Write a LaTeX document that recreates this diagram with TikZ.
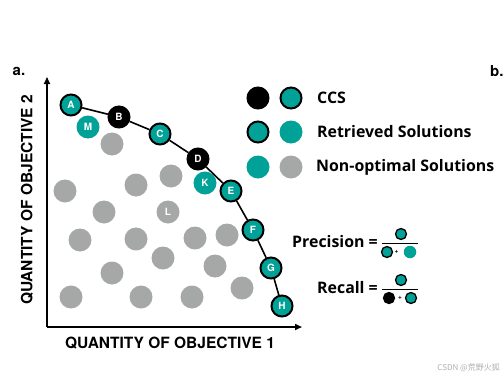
\documentclass[tikz,border=0pt]{standalone}
\usepackage{fontspec}
\setmainfont{TeX Gyre Heros}
\newfontfamily\legfont{Open Sans}
\newfontfamily\cjkfont{Noto Sans CJK SC}
\usetikzlibrary{arrows.meta}
\definecolor{tealc}{RGB}{0,161,150}
\definecolor{greyc}{RGB}{166,168,167}
\definecolor{wmark}{RGB}{175,175,175}
\tikzset{
  pt/.style={circle, inner sep=0pt, minimum size=21pt, text=white, font=\bfseries\fontsize{10}{10}\selectfont},
  ccs/.style={pt, fill=tealc, draw=black, line width=2pt},
  ccsb/.style={pt, fill=black, draw=black, line width=2pt},
  ret/.style={pt, fill=tealc, minimum size=23pt},
  non/.style={pt, fill=greyc, minimum size=23pt},
  legtext/.style={anchor=west, inner sep=0pt, font=\legfont\bfseries\fontsize{15.9}{16}\selectfont},
  axlabel/.style={inner sep=0pt, font=\bfseries\fontsize{15.5}{16}\selectfont},
  sccs/.style={circle, inner sep=0pt, minimum size=11pt, fill=tealc, draw=black, line width=1.3pt},
  sccsb/.style={circle, inner sep=0pt, minimum size=11pt, fill=black, draw=black, line width=1.3pt},
  sret/.style={circle, inner sep=0pt, minimum size=12.5pt, fill=tealc},
  plus/.style={inner sep=0pt, font=\bfseries\fontsize{6.5}{6.5}\selectfont},
  curve/.style={line width=1.6pt, black},
  axis/.style={line width=1.6pt, -{Triangle[length=7pt,width=6pt]}},
}
\begin{document}
\begin{tikzpicture}[x=1pt,y=-1pt]
\useasboundingbox (0,0) rectangle (504,381);
\fill[white] (0,0) rectangle (504,381);

% panel letters
\node[axlabel, font=\bfseries\fontsize{15}{15}\selectfont] (la) at (19,71) {a.};
\node[axlabel, font=\bfseries\fontsize{15}{15}\selectfont, anchor=west] (lb) at (490,71) {b.};

% axes
\coordinate (o) at (47,327);
\coordinate (ytip) at (47,77);
\coordinate (xtip) at (302,327);
\draw[axis] (o) -- (ytip);
\draw[axis] (o) -- (xtip);
\node[axlabel, rotate=90] (ylab) at (27,200) {QUANTITY OF OBJECTIVE 2};
\node[axlabel] (xlab) at (170,343) {QUANTITY OF OBJECTIVE 1};

% non-optimal solutions
\node[non] (n1) at (112,144) {};
\node[non] (n2) at (65,191) {};
\node[non] (n3) at (136,185) {};
\node[non] (n4) at (171,176) {};
\node[non] (n5) at (104,212) {};
\node[non] (L) at (168,212) {L};
\node[non] (n6) at (80,240) {};
\node[non] (n7) at (136,239) {};
\node[non] (n8) at (195,238) {};
\node[non] (n9) at (227,235) {};
\node[non] (n10) at (163,258) {};
\node[non] (n11) at (112,273) {};
\node[non] (n12) at (215,266) {};
\node[non] (n13) at (71,297) {};
\node[non] (n14) at (141,297) {};
\node[non] (n15) at (192,297) {};
\node[non] (n16) at (242,288) {};

% retrieved, not in CCS
\node[ret] (M) at (88,127) {M};
\node[ret] (K) at (205,183) {K};

% CCS
\node[ccs] (A) at (71,105) {A};
\node[ccsb] (B) at (119,117) {B};
\node[ccs] (C) at (160,134) {C};
\node[ccsb] (D) at (198,159) {D};
\node[ccs] (E) at (231,191) {E};
\node[ccs] (F) at (253,230) {F};
\node[ccs] (G) at (271,268) {G};
\node[ccs] (H) at (282,306) {H};
\draw[curve] (A) -- (B) -- (C) -- (D) -- (E) -- (F) -- (G) -- (H);

% legend
\node[ccsb] (l1a) at (258,98) {};
\node[ccs] (l1b) at (291,98) {};
\node[legtext] (t1) at (317,98) {CCS};
\node[ccs] (l2a) at (258,132) {};
\node[ret] (l2b) at (291,132) {};
\node[legtext] (t2) at (317,132) {Retrieved Solutions};
\node[ret] (l3a) at (258,167) {};
\node[non] (l3b) at (291,167) {};
\node[legtext] (t3) at (316,167) {Non-optimal Solutions};

% precision
\node[legtext, anchor=east] (prec) at (378,242) {Precision =};
\node[sccs] (pnum) at (401,234) {};
\coordinate (pl1) at (382,243);
\coordinate (pl2) at (418,243);
\draw[line width=1pt] (pl1) -- (pl2);
\node[sccs] (pd1) at (387,252) {};
\node[plus] (pplus) at (396.5,252) {+};
\node[sret] (pd2) at (410,252) {};

% recall
\node[legtext, anchor=east] (rec) at (378,288) {Recall =};
\node[sccs] (rnum) at (401,280) {};
\coordinate (rl1) at (382,289);
\coordinate (rl2) at (418,289);
\draw[line width=1pt] (rl1) -- (rl2);
\node[sccsb] (rd1) at (389,298) {};
\node[plus] (rplus) at (400,298) {+};
\node[sccs] (rd2) at (411,298) {};

% watermark
\node[anchor=east, inner sep=0pt, text=wmark, font=\cjkfont\fontsize{8}{8}\selectfont] (wm) at (500,368) {CSDN @荒野火狐};
\end{tikzpicture}
\end{document}
